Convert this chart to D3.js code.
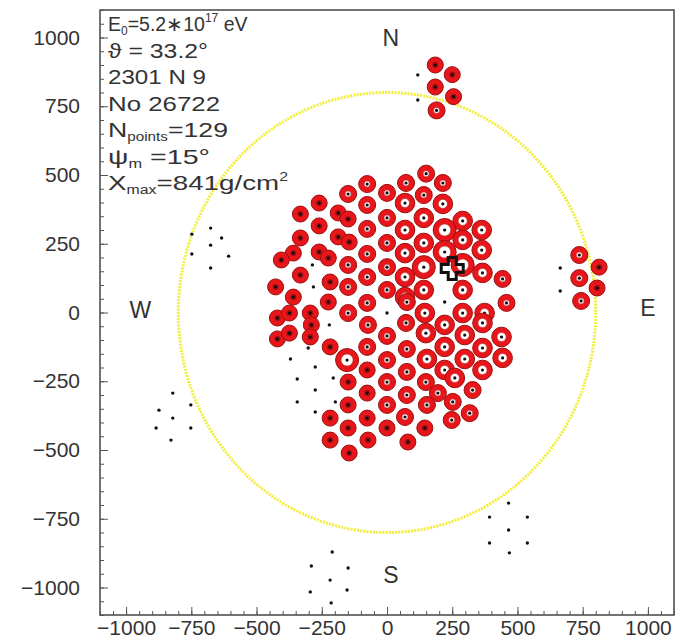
<!DOCTYPE html>
<html>
<head>
<meta charset="utf-8">
<script src="https://cdn.jsdelivr.net/npm/d3@7"></script>
<style>
  body { margin: 0; background: #fff; }
  svg { display: block; font-family: "Liberation Sans", Arial, Helvetica, sans-serif; }
</style>
</head>
<body>
<svg id="chart"></svg>
<script>
// hit detectors: [x m, y m, size class 1..4]
const hitNorth = [[185, 900, 1], [250, 865, 1], [185, 820, 1], [255, 785, 1], [190, 735, 2]];
const hitEast = [[737, 209, 2], [813, 165, 1], [737, 125, 2], [805, 89, 1], [744, 42, 2]];
const hitUpper = [
  [150, 505, 2], [-76, 467, 2], [73, 471, 2], [214, 471, 2], [-149, 431, 2], [0, 435, 2],
  [141, 427, 2], [-260, 398, 1], [-76, 391, 2], [69, 398, 3], [214, 395, 3], [-332, 358, 1],
  [-187, 362, 1], [-149, 340, 1], [0, 344, 2], [141, 344, 3], [290, 333, 3], [-260, 315, 1],
  [-76, 304, 2], [69, 300, 3], [221, 300, 4], [363, 300, 3], [-332, 271, 1], [-187, 275, 1],
  [-145, 256, 1], [0, 253, 2], [141, 253, 3], [290, 264, 3], [-359, 216, 1], [-260, 220, 1],
  [-225, 198, 1], [-76, 213, 2], [69, 216, 3], [221, 220, 4], [363, 227, 3], [-405, 191, 1],
  [-149, 173, 2], [0, 165, 2], [141, 165, 4], [290, 173, 4], [-332, 136, 1], [-218, 111, 1],
  [-76, 129, 2], [69, 129, 3], [443, 122, 2], [366, 144, 3], [-427, 93, 1], [-149, 93, 2],
  [0, 82, 2], [141, 82, 3], [-359, 56, 1], [69, 56, 3], [290, 82, 3]
];
const hitLower = [
  [-420, -20, 1], [-374, -2, 1], [-294, -2, 1], [-290, -45, 1], [-420, -96, 1], [-374, -75, 1],
  [-294, -89, 1], [-218, -125, 1], [-153, -173, 4], [-149, -2, 2], [-225, 38, 1], [-73, -45, 2],
  [-76, 35, 2], [0, -85, 2], [76, 38, 2], [73, -38, 2], [145, -2, 3], [149, -75, 3],
  [221, -45, 3], [290, -2, 3], [374, -2, 3], [458, 35, 2], [298, -82, 3], [366, -38, 3],
  [439, -89, 3], [443, -165, 3], [366, -129, 3], [298, -169, 3], [221, -125, 3], [153, -169, 3],
  [76, -133, 2], [0, -173, 2], [-76, -125, 2], [-76, -209, 1], [-149, -253, 1], [0, -253, 2],
  [76, -216, 2], [149, -253, 2], [221, -209, 3], [260, -238, 3], [366, -209, 3], [328, -282, 2],
  [195, -293, 2], [252, -325, 2], [153, -336, 2], [317, -366, 2], [248, -391, 2], [76, -300, 2],
  [0, -336, 2], [-76, -293, 1], [-149, -336, 1], [-218, -384, 1], [-76, -384, 1], [0, -420, 1],
  [69, -380, 2], [145, -420, 1], [80, -471, 1], [-149, -420, 1], [-218, -464, 1], [-73, -464, 1],
  [-145, -511, 1]
];
// detectors without signal
const quietDetectors = [
  [118, 864], [118, 773], [664, 162], [664, 78],
  [-286, 173], [-282, 93], [0, -2], [-221, -45], [-302, -129], [-370, -169], [-275, -198],
  [-344, -242], [-206, -238], [-275, -282], [-344, -325], [-198, -325], [-275, -362], [221, 38],
  [-748, 285], [-676, 307], [-634, 271], [-676, 245], [-748, 213], [-607, 205], [-676, 162],
  [-821, -293], [-752, -336], [-874, -355], [-821, -384], [-752, -420], [-885, -420], [-828, -464],
  [-210, -871], [-290, -922], [-149, -929], [-218, -973], [-294, -1016], [-153, -1009], [-214, -1056],
  [466, -693], [393, -744], [538, -744], [466, -791], [393, -838], [538, -838], [469, -874]
];
const coreXY = [250, 160];
const ringRadius = 800;
const tickValues = [-1000, -750, -500, -250, 0, 250, 500, 750, 1000];
const compass = [["N", 15, 1000], ["E", 1000, 15], ["S", 15, -955], ["W", -945, 10]];

const width = 679, height = 642;
const svg = d3.select('#chart').attr('width', width).attr('height', height);

const x = d3.scaleLinear().domain([-1100, 1100]).range([100, 674]);
const y = d3.scaleLinear().domain([-1100, 1100]).range([615, 10]);

// frame
svg.append('rect')
    .attr('x', 100).attr('y', 10).attr('width', 574).attr('height', 605)
    .attr('fill', 'none').attr('stroke', '#444').attr('stroke-width', 1.5);

// minor ticks (inward)
const minor = d3.range(-1100, 1101, 50);
svg.append('g').attr('transform', 'translate(0,615)')
    .call(d3.axisBottom(x).tickValues(minor).tickSize(-4).tickFormat(''))
    .call(g => g.select('.domain').remove())
    .selectAll('line').attr('stroke', '#555');
svg.append('g').attr('transform', 'translate(100,0)')
    .call(d3.axisLeft(y).tickValues(minor).tickSize(-4).tickFormat(''))
    .call(g => g.select('.domain').remove())
    .selectAll('line').attr('stroke', '#555');

// major ticks + labels
const fmt = d3.format('d');
const xAxis = svg.append('g').attr('transform', 'translate(0,615)')
    .call(d3.axisBottom(x).tickValues(tickValues).tickFormat(fmt)
        .tickSizeInner(-8).tickSizeOuter(0).tickPadding(5))
    .call(g => g.select('.domain').remove());
xAxis.selectAll('line').attr('stroke', '#555');
xAxis.selectAll('text').attr('font-size', 21).attr('fill', '#333')
    .attr('font-family', '"Liberation Sans", Arial, sans-serif');

const yAxis = svg.append('g').attr('transform', 'translate(100,0)')
    .call(d3.axisLeft(y).tickValues(tickValues).tickFormat(fmt)
        .tickSizeInner(-8).tickSizeOuter(0).tickPadding(20))
    .call(g => g.select('.domain').remove());
yAxis.selectAll('line').attr('stroke', '#555');
yAxis.selectAll('text').attr('font-size', 21).attr('fill', '#333')
    .attr('font-family', '"Liberation Sans", Arial, sans-serif');

// yellow dotted circle
svg.append('ellipse')
    .attr('cx', x(0)).attr('cy', y(0))
    .attr('rx', x(ringRadius) - x(0)).attr('ry', y(0) - y(ringRadius))
    .attr('fill', 'none').attr('stroke', '#f2ee3a').attr('stroke-width', 3)
    .attr('stroke-dasharray', '2,1.2');

// quiet detectors
svg.append('g').selectAll('circle')
    .data(quietDetectors).enter().append('circle')
    .attr('cx', d => x(d[0])).attr('cy', d => y(d[1]))
    .attr('r', 1.7).attr('fill', '#111');

// hit detectors
const outerR = {1: 8, 2: 8.5, 3: 9.8, 4: 11.5};
const innerR = {1: 0, 2: 3, 3: 4.5, 4: 6};
const hits = hitNorth.concat(hitEast, hitUpper, hitLower);
const hitG = svg.append('g').selectAll('g')
    .data(hits).enter().append('g')
    .attr('transform', d => 'translate(' + x(d[0]) + ',' + y(d[1]) + ')');
hitG.append('circle').attr('r', d => outerR[d[2]])
    .attr('fill', '#e8161b').attr('stroke', '#9a1010').attr('stroke-width', 1);
hitG.filter(d => d[2] > 1).append('circle').attr('r', d => innerR[d[2]])
    .attr('fill', '#fff').attr('stroke', '#b33').attr('stroke-width', 0.6);
hitG.filter(d => d[2] === 1).append('circle').attr('r', 3)
    .attr('fill', '#a01010');
hitG.append('circle').attr('r', 1.6).attr('fill', '#111');

// shower core: open cross
const cx = x(coreXY[0]), cy = y(coreXY[1]);
const a = 4, b = 11;
const crossPts = [[-a, -b], [a, -b], [a, -a], [b, -a], [b, a], [a, a], [a, b], [-a, b], [-a, a], [-b, a], [-b, -a], [-a, -a]];
svg.append('polygon')
    .attr('points', crossPts.map(p => (cx + p[0]) + ',' + (cy + p[1])).join(' '))
    .attr('fill', 'none').attr('stroke', '#111').attr('stroke-width', 3);

// compass labels
svg.append('g').selectAll('text')
    .data(compass).enter().append('text')
    .attr('x', d => x(d[1])).attr('y', d => y(d[2]))
    .attr('text-anchor', 'middle').attr('dy', '0.35em')
    .attr('font-size', 23).attr('fill', '#333')
    .text(d => d[0]);

// info block: [text, -1 sub / 0 normal / 1 sup], and line width (0 = natural)
const lines = [
  [['E', 0], ['0', -1], ['=5.2\u221710', 0], ['17', 1], [' eV', 0]],
  [['\u03d1 = 33.2\u00b0', 0]],
  [['2301 N 9', 0]],
  [['No 26722', 0]],
  [['N', 0], ['points', -1], ['=129', 0]],
  [['\u03c8', 0], ['m', -1], [' =15\u00b0', 0]],
  [['X', 0], ['max', -1], ['=841g/cm', 0], ['2', 1]]
];
const lineWidths = [0, 100, 98, 112, 120, 102, 180];
const info = svg.append('g').attr('font-size', 21).attr('fill', '#333');
lines.forEach(function(parts, i) {
    const t = info.append('text').attr('x', 108).attr('y', 31 + i * 26.5);
    if (lineWidths[i]) {
        t.attr('textLength', lineWidths[i]).attr('lengthAdjust', 'spacingAndGlyphs');
    } else {
        t.attr('font-size', 19.5);
    }
    parts.forEach(function(p, j) {
        const ts = t.append('tspan').text(p[0]);
        if (p[1] === -1) ts.attr('font-size', 12).attr('dy', 4);
        if (p[1] === 1) ts.attr('font-size', 12).attr('dy', -9);
        if (p[1] === 0 && j > 0) {
            if (parts[j - 1][1] === -1) ts.attr('dy', -4);
            if (parts[j - 1][1] === 1) ts.attr('dy', 9);
        }
    });
});
</script>
</body>
</html>
